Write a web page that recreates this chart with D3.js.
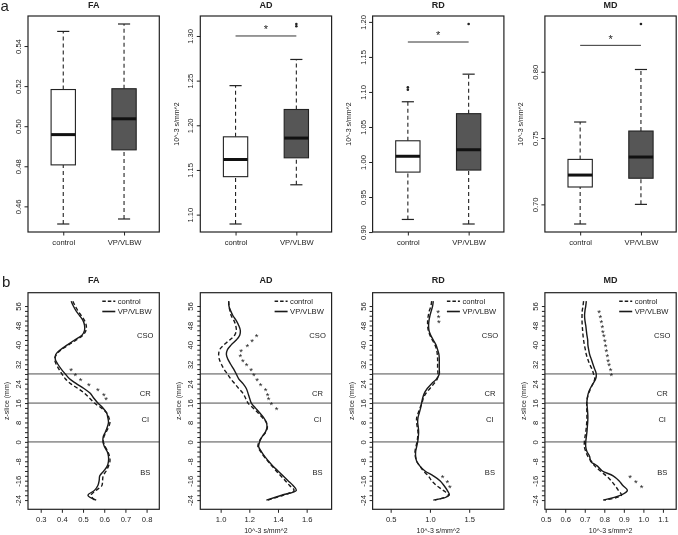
<!DOCTYPE html>
<html><head><meta charset="utf-8">
<script src="https://cdn.jsdelivr.net/npm/d3@7"></script>
<style>
body{margin:0;background:#fff}
svg{display:block;will-change:transform}
text{font-family:"Liberation Sans",Arial,Helvetica,sans-serif;fill:#222}
</style>
</head><body>
<svg id="c" width="678" height="535"></svg>
<script>
// ---------- data ----------
const metrics = ["FA", "AD", "RD", "MD"];
const groups = ["control", "VP/VLBW"];

// box stats per group: [lower whisker, Q1, median, Q3, upper whisker]
const faBox = [[0.4512, 0.4807, 0.4958, 0.5183, 0.5473], [0.4537, 0.4882, 0.5037, 0.5187, 0.5510]];
const adBox = [[1.0895, 1.1425, 1.1617, 1.1871, 1.2444], [1.1334, 1.1636, 1.1857, 1.2177, 1.2737]];
const rdBox = [[0.9180, 0.9856, 1.0082, 1.0303, 1.0860], [0.9115, 0.9885, 1.0175, 1.0690, 1.1254]];
const mdBox = [[0.6852, 0.7131, 0.7221, 0.7339, 0.7621], [0.7000, 0.7197, 0.7357, 0.7553, 0.8017]];
const faOut = [[], []];
const adOut = [[], [1.3108, 1.3134]];
const rdOut = [[1.1033, 1.1067], [1.1970]];
const mdOut = [[], [0.8360]];
const sigLevel = [null, 1.30, 1.1713, 0.8199];
const topTicks = [[0.46, 0.48, 0.50, 0.52, 0.54], [1.10, 1.15, 1.20, 1.25, 1.30],
                  [0.90, 0.95, 1.00, 1.05, 1.10, 1.15, 1.20], [0.70, 0.75, 0.80]];
const topYTitle = [null, "10^-3 s/mm^2", "10^-3 s/mm^2", "10^-3 s/mm^2"];

// profiles along z (mm)
const zSlices = [58, 56, 54, 52, 50, 48, 46, 44, 42, 40, 38, 36, 34, 32, 30, 28, 26, 24, 22, 20,
                 18, 16, 14, 12, 10, 8, 6, 4, 2, 0, -2, -4, -6, -8, -10, -12, -14, -16, -18, -20, -22, -24];
const faControl = [0.452,0.463,0.476,0.492,0.507,0.515,0.514,0.500,0.468,0.432,0.397,0.374,0.366,0.373,0.386,0.400,0.416,0.441,0.476,0.507,
                   0.531,0.554,0.586,0.611,0.622,0.627,0.620,0.609,0.598,0.596,0.605,0.617,0.625,0.627,0.620,0.609,0.595,0.592,0.589,0.562,0.538,0.554];
const faVP      = [0.444,0.454,0.467,0.484,0.500,0.507,0.507,0.495,0.460,0.426,0.393,0.371,0.369,0.381,0.397,0.416,0.436,0.468,0.504,0.534,
                   0.551,0.570,0.594,0.611,0.617,0.620,0.614,0.605,0.595,0.594,0.601,0.614,0.620,0.620,0.614,0.598,0.579,0.576,0.570,0.554,0.523,0.562];
const adControl = [1.056,1.058,1.065,1.074,1.093,1.105,1.109,1.098,1.063,1.023,0.993,0.986,0.991,1.005,1.023,1.047,1.070,1.098,1.126,1.156,
                   1.174,1.191,1.226,1.260,1.291,1.319,1.326,1.314,1.288,1.267,1.260,1.279,1.302,1.330,1.358,1.388,1.419,1.451,1.481,1.512,1.435,1.330];
const adVP      = [1.056,1.058,1.070,1.086,1.109,1.126,1.137,1.133,1.109,1.074,1.047,1.040,1.051,1.070,1.091,1.109,1.126,1.156,1.179,1.191,
                   1.202,1.214,1.242,1.272,1.300,1.319,1.323,1.312,1.288,1.272,1.265,1.284,1.307,1.335,1.365,1.400,1.435,1.470,1.505,1.528,1.426,1.319];
const rdControl = [1.022,1.013,0.992,0.979,0.971,0.971,0.979,1.000,1.030,1.064,1.085,1.094,1.098,1.098,1.098,1.102,1.094,1.051,1.000,0.949,
                   0.916,0.899,0.873,0.852,0.831,0.831,0.839,0.848,0.844,0.835,0.822,0.810,0.814,0.831,0.873,0.916,0.979,1.022,1.085,1.170,1.237,1.064];
const rdVP      = [1.043,1.034,1.017,1.000,0.988,0.983,0.988,1.009,1.043,1.077,1.098,1.115,1.119,1.119,1.119,1.119,1.085,1.022,0.966,0.928,
                   0.907,0.894,0.882,0.865,0.848,0.844,0.852,0.856,0.852,0.844,0.831,0.818,0.818,0.831,0.873,0.937,1.043,1.128,1.179,1.221,1.246,1.043];
const mdControl = [0.694,0.691,0.687,0.686,0.686,0.687,0.689,0.691,0.694,0.698,0.703,0.708,0.716,0.725,0.737,0.745,0.751,0.742,0.730,0.720,
                   0.713,0.710,0.710,0.711,0.711,0.710,0.708,0.705,0.701,0.698,0.698,0.705,0.716,0.734,0.752,0.780,0.810,0.835,0.855,0.872,0.888,0.800];
const mdVP      = [0.708,0.705,0.701,0.699,0.701,0.705,0.708,0.711,0.715,0.716,0.720,0.725,0.734,0.742,0.751,0.759,0.756,0.742,0.728,0.718,
                   0.713,0.711,0.713,0.715,0.716,0.715,0.713,0.711,0.708,0.705,0.705,0.711,0.725,0.730,0.765,0.790,0.845,0.875,0.895,0.918,0.885,0.794];

// significance stars: z positions and x values
const faStarZ = [30, 28, 26, 24, 22, 20, 18];
const faStarX = [0.444, 0.464, 0.488, 0.527, 0.570, 0.598, 0.609];
const adStarZ = [44, 42, 40, 38, 36, 34, 32, 30, 28, 26, 24, 22, 20, 18, 16, 14];
const adStarX = [1.250, 1.220, 1.186, 1.142, 1.138, 1.155, 1.181, 1.213, 1.232, 1.255, 1.279, 1.314, 1.328, 1.335, 1.354, 1.390];
const rdStarZ = [54, 52, 50, -14, -16, -18];
const rdStarX = [1.105, 1.112, 1.115, 1.162, 1.221, 1.255];
const mdStarZ = [54, 52, 50, 48, 46, 44, 42, 40, 38, 36, 34, 32, 30, 28, -14, -16, -18];
const mdStarX = [0.773, 0.780, 0.785, 0.790, 0.793, 0.798, 0.803, 0.807, 0.810, 0.815, 0.819, 0.824, 0.832, 0.836, 0.932, 0.962, 0.991];

const xLimBottom = [[0.240, 0.860], [0.858, 1.774], [0.270, 1.942], [0.496, 1.168]];
const bottomXTicks = [[0.3, 0.4, 0.5, 0.6, 0.7, 0.8], [1.0, 1.2, 1.4, 1.6], [0.5, 1.0, 1.5], [0.5, 0.6, 0.7, 0.8, 0.9, 1.0, 1.1]];
const bottomXTitle = [null, "10^-3 s/mm^2", "10^-3 s/mm^2", "10^-3 s/mm^2"];
const zLim = [-27.8, 61.5];
const zTicks = [-24,-22,-20,-18,-16,-14,-12,-10,-8,-6,-4,-2,0,2,4,6,8,10,12,14,16,18,20,22,24,26,28,30,32,34,36,38,40,42,44,46,48,50,52,54,56];
const boundaries = [28, 16, 0];
const regions = ["CSO", "CR", "CI", "BS"];
const regionZ = [44, 20, 9.5, -12.5];

// ---------- layout ----------
const svg = d3.select("#c");
const panelLefts = [28, 200.3, 372.6, 544.9], panelW = 131.3;
const topY = [16, 232], botY = [292.7, 509.3];
const FS = 7.6;

const boxes = [faBox, adBox, rdBox, mdBox];
const outs = [faOut, adOut, rdOut, mdOut];
const profiles = [[faControl, faVP], [adControl, adVP], [rdControl, rdVP], [mdControl, mdVP]];
const stars = [[faStarZ, faStarX], [adStarZ, adStarX], [rdStarZ, rdStarX], [mdStarZ, mdStarX]];

function star(g, cx, cy, fs) {
  g.append("text").attr("x", cx).attr("y", cy + fs * 0.55).attr("text-anchor", "middle")
    .style("font-size", fs + "px").style("fill", "#222").text("*");
}

svg.append("text").attr("x", 0.5).attr("y", 11).style("font-size", "15px").text("a");
svg.append("text").attr("x", 2).attr("y", 287.3).style("font-size", "15px").text("b");

metrics.forEach((m, i) => {
  const x0 = panelLefts[i], x1 = x0 + panelW;
  const cx = (x0 + x1) / 2;

  // ===== top row: box plots =====
  {
    const vals = boxes[i].flat().concat(outs[i].flat());
    const lo = d3.min(vals), hi = d3.max(vals), pad = (hi - lo) * 0.04;
    const y = d3.scaleLinear().domain([lo - pad, hi + pad]).range([topY[1], topY[0]]);
    const x = d3.scaleLinear().domain([0.42, 2.58]).range([x0, x1]);
    const g = svg.append("g");

    g.append("text").attr("x", cx).attr("y", 8.3).attr("text-anchor", "middle")
      .style("font-size", "9px").style("font-weight", "bold").text(m);

    const ya = g.append("g").attr("transform", `translate(${x0},0)`)
      .call(d3.axisLeft(y).tickValues(topTicks[i]).tickSize(3.5).tickFormat(d3.format(".2f")));
    ya.select(".domain").remove();
    ya.selectAll("line").attr("stroke", "#222");
    ya.selectAll("text").attr("x", null).attr("dy", null)
      .attr("transform", "translate(-7,0) rotate(-90)").attr("text-anchor", "middle")
      .style("font-size", FS + "px").style("font-family", "Liberation Sans, Arial, sans-serif").attr("fill", "#222");

    const xa = g.append("g").attr("transform", `translate(0,${topY[1]})`)
      .call(d3.axisBottom(x).tickValues([1, 2]).tickSize(3.5).tickFormat(d => groups[d - 1]));
    xa.select(".domain").remove();
    xa.selectAll("line").attr("stroke", "#222");
    xa.selectAll("text").attr("y", 13.4).attr("dy", null)
      .style("font-size", FS + "px").style("font-family", "Liberation Sans, Arial, sans-serif").attr("fill", "#222");

    if (topYTitle[i]) {
      g.append("text").attr("transform", `translate(${x0 - 21.5},${(topY[0] + topY[1]) / 2}) rotate(-90)`)
        .attr("text-anchor", "middle").style("font-size", "7px").text(topYTitle[i]);
    }

    boxes[i].forEach((b, k) => {
      const c = x(k + 1);
      const bl = x(k + 1 - 0.2), br = x(k + 1 + 0.2);
      const sl = x(k + 1 - 0.1), sr = x(k + 1 + 0.1);
      g.append("line").attr("x1", c).attr("x2", c).attr("y1", y(b[0])).attr("y2", y(b[1]))
        .attr("stroke", "#222").attr("stroke-width", 1.1).attr("stroke-dasharray", "4,3");
      g.append("line").attr("x1", c).attr("x2", c).attr("y1", y(b[3])).attr("y2", y(b[4]))
        .attr("stroke", "#222").attr("stroke-width", 1.1).attr("stroke-dasharray", "4,3");
      [b[0], b[4]].forEach(v => g.append("line").attr("x1", sl).attr("x2", sr).attr("y1", y(v)).attr("y2", y(v))
        .attr("stroke", "#222").attr("stroke-width", 1.2));
      g.append("rect").attr("x", bl).attr("width", br - bl).attr("y", y(b[3])).attr("height", y(b[1]) - y(b[3]))
        .attr("fill", k === 0 ? "#ffffff" : "#565656").attr("stroke", "#222").attr("stroke-width", 1.1);
      g.append("line").attr("x1", bl).attr("x2", br).attr("y1", y(b[2])).attr("y2", y(b[2]))
        .attr("stroke", "#111").attr("stroke-width", 3);
      outs[i][k].forEach(v => g.append("circle").attr("cx", c).attr("cy", y(v)).attr("r", 1.3).attr("fill", "#222"));
    });

    if (sigLevel[i] !== null) {
      const sy = y(sigLevel[i]);
      g.append("line").attr("x1", x(1)).attr("x2", x(2)).attr("y1", sy).attr("y2", sy)
        .attr("stroke", "#333").attr("stroke-width", 1);
      star(g, (x(1) + x(2)) / 2, sy - 8.7, 11);
    }

    g.append("rect").attr("x", x0).attr("y", topY[0]).attr("width", panelW).attr("height", topY[1] - topY[0])
      .attr("fill", "none").attr("stroke", "#222").attr("stroke-width", 1.2);
  }

  // ===== bottom row: z profiles =====
  {
    const x = d3.scaleLinear().domain(xLimBottom[i]).range([x0, x1]);
    const y = d3.scaleLinear().domain(zLim).range([botY[1], botY[0]]);
    const g = svg.append("g");

    g.append("text").attr("x", cx).attr("y", 283.3).attr("text-anchor", "middle")
      .style("font-size", "9px").style("font-weight", "bold").text(m);

    const ya = g.append("g").attr("transform", `translate(${x0},0)`)
      .call(d3.axisLeft(y).tickValues(zTicks).tickSize(3).tickFormat(d => (d % 8 === 0 ? d : "")));
    ya.select(".domain").remove();
    ya.selectAll("line").attr("stroke", "#222");
    ya.selectAll("text").attr("x", null).attr("dy", null)
      .attr("transform", "translate(-7,0) rotate(-90)").attr("text-anchor", "middle")
      .style("font-size", FS + "px").style("font-family", "Liberation Sans, Arial, sans-serif").attr("fill", "#222");

    const xa = g.append("g").attr("transform", `translate(0,${botY[1]})`)
      .call(d3.axisBottom(x).tickValues(bottomXTicks[i]).tickSize(3.5).tickFormat(d3.format(".1f")));
    xa.select(".domain").remove();
    xa.selectAll("line").attr("stroke", "#222");
    xa.selectAll("text").attr("y", 12.8).attr("dy", null)
      .style("font-size", FS + "px").style("font-family", "Liberation Sans, Arial, sans-serif").attr("fill", "#222");

    g.append("text").attr("transform", `translate(${x0 - 19},${(botY[0] + botY[1]) / 2}) rotate(-90)`)
      .attr("text-anchor", "middle").style("font-size", "7px").text("z-slice (mm)");
    if (bottomXTitle[i]) {
      g.append("text").attr("x", cx).attr("y", 532.5).attr("text-anchor", "middle")
        .style("font-size", "7px").text(bottomXTitle[i]);
    }

    boundaries.forEach(z => g.append("line").attr("x1", x0).attr("x2", x1).attr("y1", y(z)).attr("y2", y(z))
      .attr("stroke", "#9a9a9a").attr("stroke-width", 1.8));

    regions.forEach((r, k) => g.append("text").attr("x", x1 - 14).attr("y", y(regionZ[k]) + 2.8)
      .attr("text-anchor", "middle").style("font-size", FS + "px").text(r));

    const line = d3.line().x(d => x(d[0])).y(d => y(d[1])).curve(d3.curveCatmullRom.alpha(0.5));
    profiles[i].forEach((ser, k) => {
      g.append("path").attr("d", line(ser.map((v, j) => [v, zSlices[j]])))
        .attr("fill", "none").attr("stroke", "#1a1a1a").attr("stroke-width", 1.4)
        .attr("stroke-dasharray", k === 0 ? "4,2.5" : null);
    });

    stars[i][0].forEach((z, k) => star(g, x(stars[i][1][k]), y(z), 9.5));

    // legend
    const lx = x1 - 57, ly = [botY[0] + 8.6, botY[0] + 18.8];
    groups.forEach((gr, k) => {
      g.append("line").attr("x1", lx).attr("x2", lx + 13).attr("y1", ly[k]).attr("y2", ly[k])
        .attr("stroke", "#1a1a1a").attr("stroke-width", 1.6).attr("stroke-dasharray", k === 0 ? "3.5,2" : null);
      g.append("text").attr("x", lx + 15.5).attr("y", ly[k] + 2.7).style("font-size", FS + "px").text(gr);
    });

    g.append("rect").attr("x", x0).attr("y", botY[0]).attr("width", panelW).attr("height", botY[1] - botY[0])
      .attr("fill", "none").attr("stroke", "#222").attr("stroke-width", 1.2);
  }
});
</script>
</body></html>
